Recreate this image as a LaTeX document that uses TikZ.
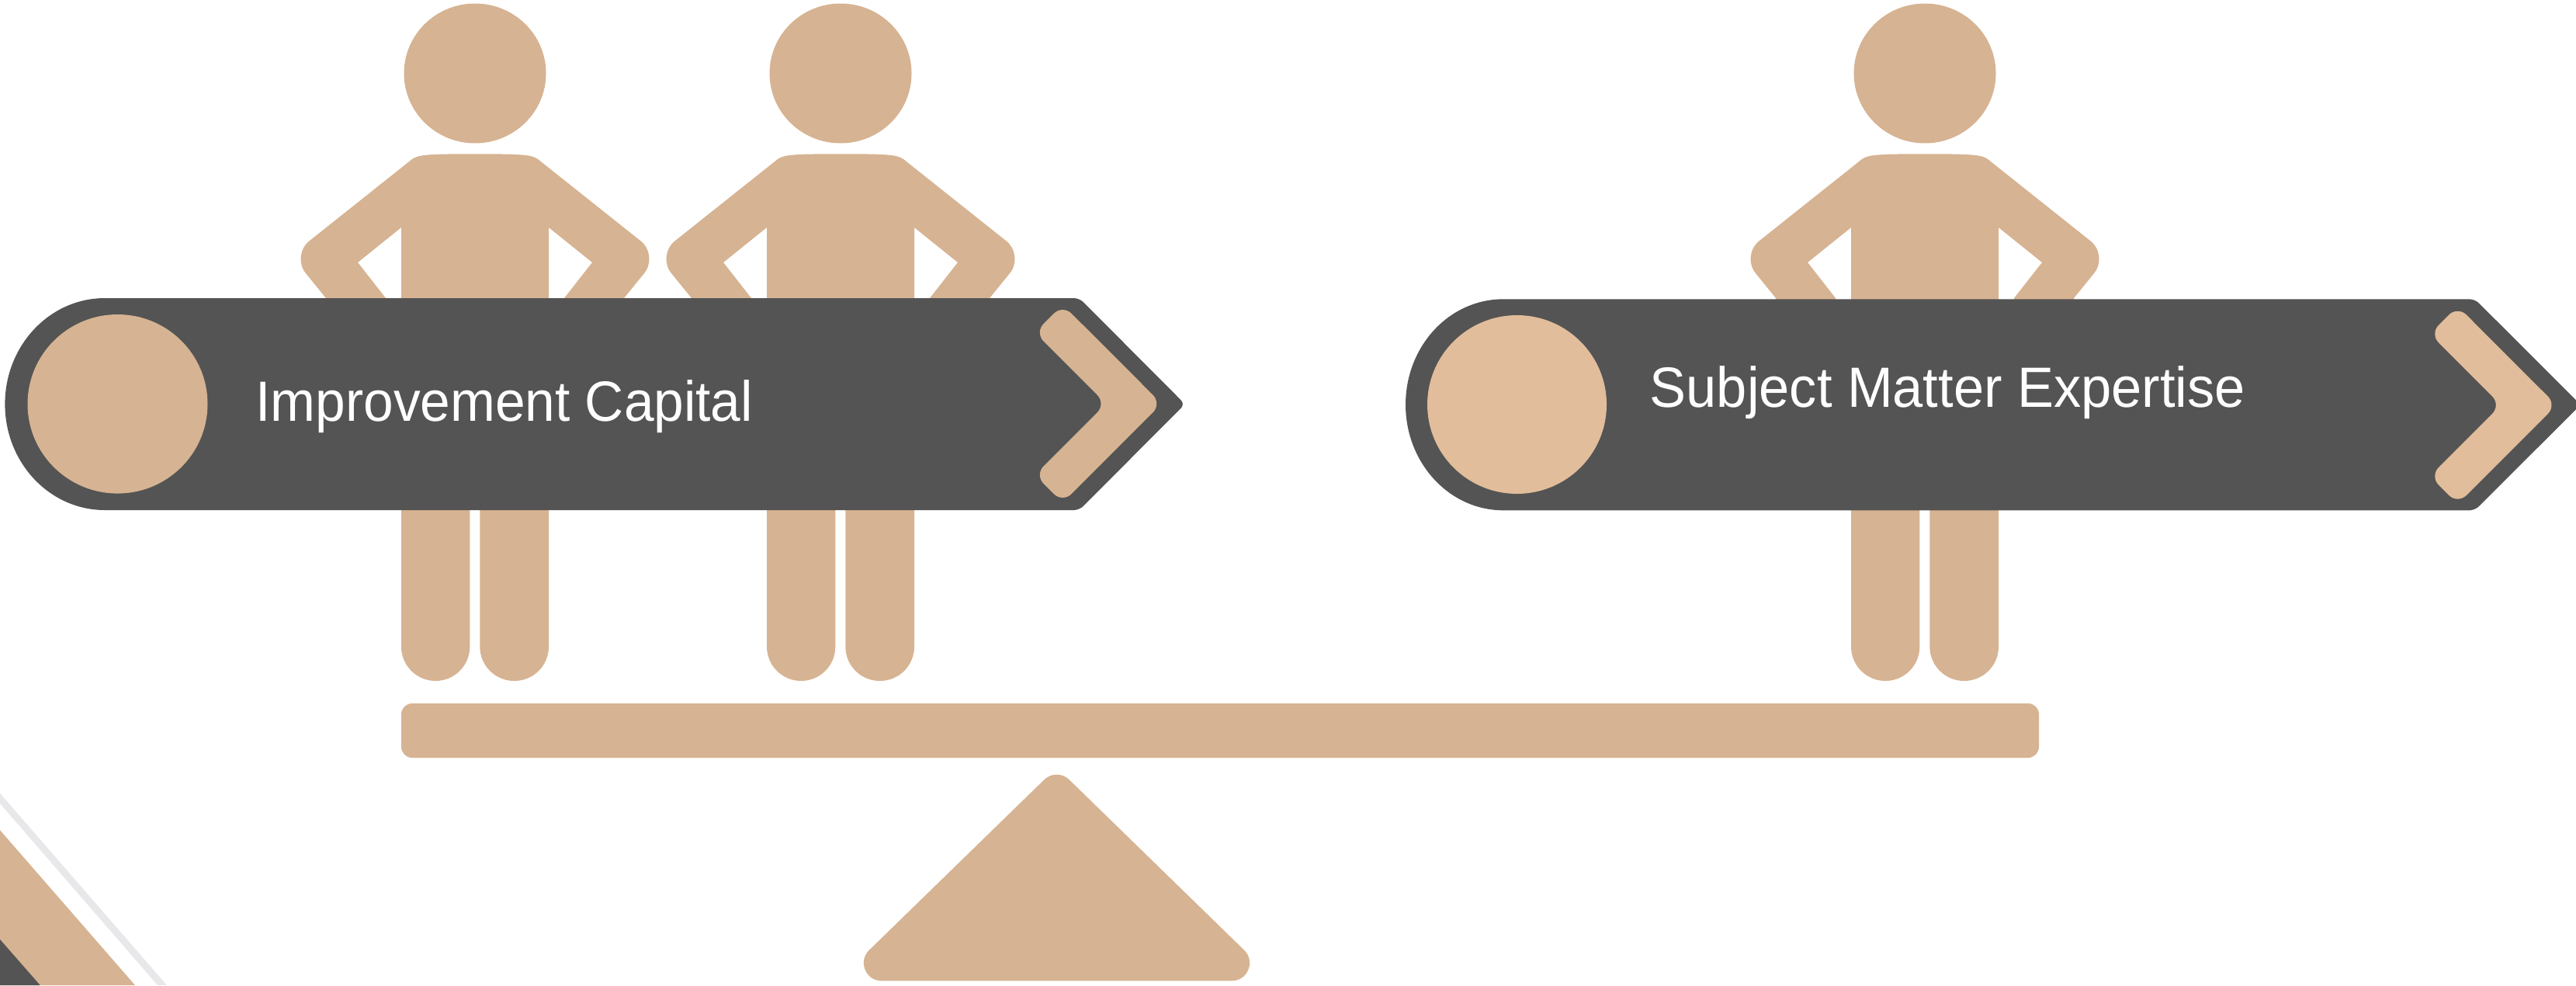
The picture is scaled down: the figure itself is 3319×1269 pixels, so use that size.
\documentclass[tikz,border=0pt]{standalone}
\usepackage{fontspec}
\setmainfont{Liberation Sans}
\usepackage{xcolor}
\definecolor{scaletan}{RGB}{214, 179, 146}
\definecolor{scalelight}{RGB}{226, 189, 155}
\definecolor{scaledark}{RGB}{84, 84, 84}
\definecolor{scalegray}{RGB}{232, 232, 234}

\begin{document}
\begin{tikzpicture}[
      x=0.01cm, y=-0.01cm,
      tanpart/.style={fill=scaletan, draw=none},
      darkpart/.style={fill=scaledark, draw=none},
      title/.style={text=white, inner sep=0pt, anchor=base west, font=\fontsize{20.8}{25}\selectfont},
      person/.pic={
        \fill[tanpart] (612, 94.5) ellipse [x radius=91.5, y radius=90];
        \fill[tanpart] (612, 198.3) .. controls (670, 198.3) and (685, 199) .. (693, 205)
          -- (825, 310) .. controls (838, 320) and (840.4, 339.3) .. (830, 352)
          -- (804, 384) -- (804, 400) -- (727, 400) -- (727, 384) -- (763, 338) -- (707, 293)
          -- (707, 400) -- (517, 400) -- (517, 293) -- (461, 338) -- (497, 384) -- (497, 400)
          -- (420, 400) -- (420, 384) -- (394, 352) .. controls (383.6, 339.3) and (386, 320) .. (399, 310)
          -- (531, 205) .. controls (539, 199) and (554, 198.3) .. (612, 198.3) -- cycle;
        \fill[tanpart, rounded corners=12.56pt] (517, 500) -- (517, 877) -- (605.3, 877) -- (605.3, 500) -- cycle;
        \fill[tanpart, rounded corners=12.56pt] (618.3, 500) -- (618.3, 877) -- (707, 877) -- (707, 500) -- cycle;
      }
    ]
      \useasboundingbox (0, 0) rectangle (3319, 1269);

      % corner bands
      \fill[scalegray] (0, 1021.7) -- (215, 1269) -- (203, 1269) -- (0, 1035) -- cycle;
      \fill[tanpart] (0, 1069.3) -- (174, 1269) -- (0, 1269) -- cycle;
      \fill[darkpart] (0, 1210) -- (51.7, 1269) -- (0, 1269) -- cycle;

      % people
      \pic at (0, 0) {person};
      \pic at (471, 0) {person};
      \pic at (1868, 0) {person};

      % beam and pivot
      \fill[tanpart, rounded corners=4pt] (517, 906) rectangle (2627, 976);
      \filldraw[scaletan, line width=13.09pt, line join=round] (1135.9, 1240.3) -- (1361.5, 1020.7) -- (1587, 1240.3) -- cycle;

      % left banner
      \fill[darkpart] (135, 384) [rounded corners=2pt] -- (1390.7, 384) -- (1526.7, 520.5) -- (1390.7, 657) [sharp corners] -- (135, 657)
        .. controls (64, 657) and (6.4, 596) .. (6.4, 520.5) .. controls (6.4, 445) and (64, 384) .. (135, 384) -- cycle;
      \fill[tanpart] (151.5, 520.3) ellipse [x radius=116, y radius=115.3];
      \fill[tanpart] (1433, 456.2) [rounded corners=4.5pt] -- (1496.7, 520) -- (1369.2, 647.5) -- (1333.3, 611.7) -- (1425, 520) -- (1333.3, 428.3) -- (1369.2, 392.5) [sharp corners] -- cycle;
      \node[title, xscale=0.949] (capital) at (329, 542.7) {Improvement Capital};

      % right banner
      \fill[darkpart] (1937, 385.3) [rounded corners=2pt] -- (3188.7, 385.3) -- (3325, 521.3) -- (3188.7, 657.3) [sharp corners] -- (1937, 657.3)
        .. controls (1867, 657.3) and (1811, 596) .. (1811, 521.3) .. controls (1811, 446) and (1867, 385.3) .. (1937, 385.3) -- cycle;
      \fill[scalelight] (1954.5, 521) ellipse [x radius=115.5, y radius=115];
      \fill[scalelight] (3230, 458) [rounded corners=4.5pt] -- (3294, 521.7) -- (3166.5, 649.2) -- (3130.7, 613.3) -- (3222.3, 521.7) -- (3130.7, 430) -- (3166.5, 394.2) [sharp corners] -- cycle;
      \node[title, xscale=0.963] (expertise) at (2125, 524) {Subject Matter Expertise};
    \end{tikzpicture}
\end{document}
